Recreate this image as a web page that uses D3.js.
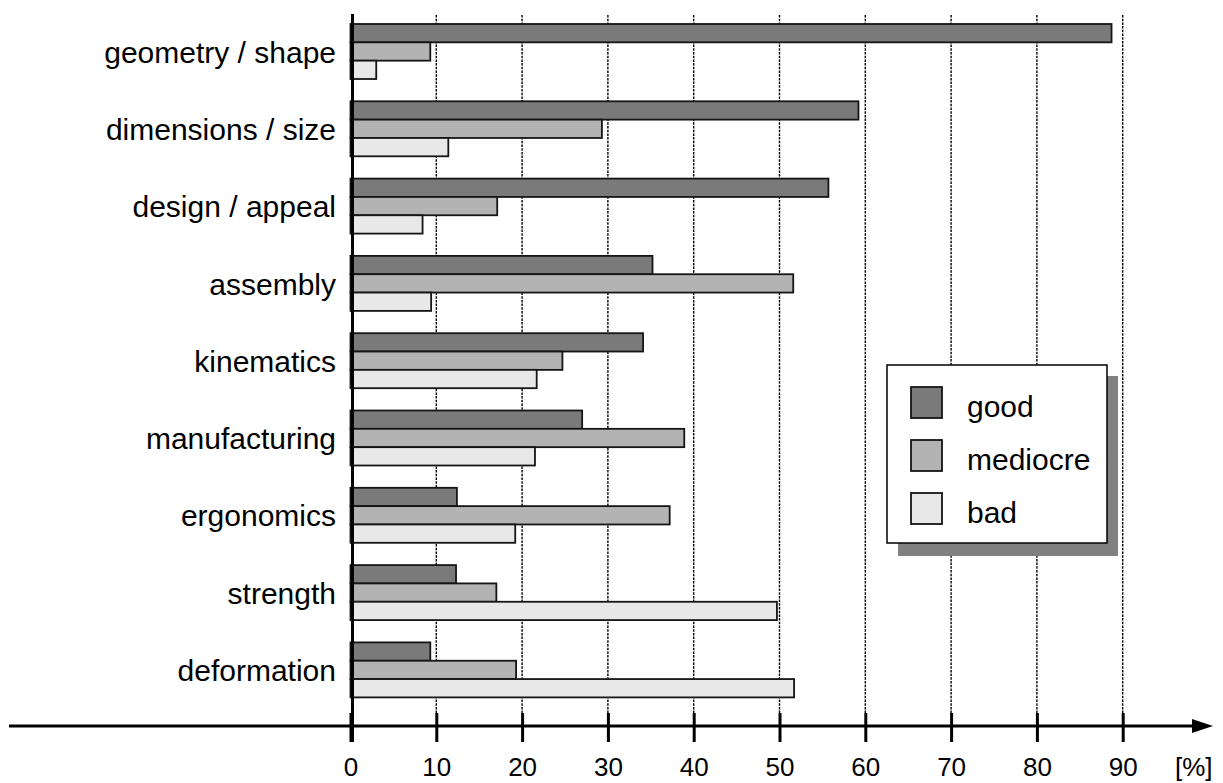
<!DOCTYPE html>
<html>
<head>
<meta charset="utf-8">
<script src="https://cdn.jsdelivr.net/npm/d3@7"></script>
<style>
  html, body { margin: 0; padding: 0; background: #fff; }
  svg { display: block; font-family: "Liberation Sans", Arial, Helvetica, sans-serif; }
</style>
</head>
<body>
<svg id="chart" width="1223" height="783"></svg>
<script>
const categories = ["geometry / shape", "dimensions / size", "design / appeal", "assembly",
  "kinematics", "manufacturing", "ergonomics", "strength", "deformation"];
const seriesNames = ["good", "mediocre", "bad"];
const goodValues     = [88.7, 59.2, 55.7, 35.2, 34.1, 27.0, 12.4, 12.3, 9.3];
const mediocreValues = [9.3, 29.3, 17.1, 51.6, 24.7, 38.9, 37.2, 17.0, 19.3];
const badValues      = [3.0, 11.4, 8.4, 9.4, 21.7, 21.5, 19.2, 49.7, 51.7];
const tickValues = [0, 10, 20, 30, 40, 50, 60, 70, 80, 90];
const unitLabel = "[%]";

const colors = { good: "#7a7a7a", mediocre: "#b3b3b3", bad: "#e8e8e8" };
const seriesValues = { good: goodValues, mediocre: mediocreValues, bad: badValues };

const svg = d3.select("#chart");

const x = d3.scaleLinear().domain([0, 90]).range([350.5, 1122.7]);
const y = d3.scaleBand().domain(categories).range([24, 697.4]).paddingInner(0.2885).paddingOuter(0);
const ySub = d3.scaleBand().domain(seriesNames).range([0, y.bandwidth()]).padding(0);

const axisY = 726;
const gridTop = 15, gridBottom = 713;

// gridlines (dashed)
svg.append("g")
  .selectAll("line")
  .data(tickValues.filter(d => d > 0))
  .join("line")
  .attr("x1", d => x(d)).attr("x2", d => x(d))
  .attr("y1", gridTop).attr("y2", gridBottom)
  .attr("stroke", "#000")
  .attr("stroke-width", 1.4)
  .attr("stroke-dasharray", "2.5,1.2");

// bars
const rows = categories.map((c, i) => ({ cat: c, vals: seriesNames.map(s => ({ s, v: seriesValues[s][i] })) }));
const grp = svg.append("g").selectAll("g").data(rows).join("g")
  .attr("transform", d => `translate(0,${y(d.cat)})`);
grp.selectAll("rect").data(d => d.vals).join("rect")
  .attr("x", x(0))
  .attr("y", d => ySub(d.s))
  .attr("width", d => x(d.v) - x(0))
  .attr("height", ySub.bandwidth())
  .attr("fill", d => colors[d.s])
  .attr("stroke", "#151515")
  .attr("stroke-width", 1.8);

// bottom ticks via d3 axis
const xAxis = d3.axisBottom(x).tickValues(tickValues).tickSize(29).tickPadding(16).tickFormat(d3.format("d"));
const gx = svg.append("g").attr("transform", `translate(0,${gridBottom})`).call(xAxis);
gx.select(".domain").remove();
gx.selectAll(".tick line").attr("stroke", "#000").attr("stroke-width", 3);
gx.selectAll(".tick text").attr("fill", "#000").attr("font-size", 26).attr("font-family", "Liberation Sans, Arial, sans-serif");

// horizontal axis arrow
svg.append("line").attr("x1", 9).attr("x2", 1198).attr("y1", axisY).attr("y2", axisY)
  .attr("stroke", "#000").attr("stroke-width", 3);
svg.append("path").attr("d", `M1213,${axisY} L1192,${axisY - 7} L1192,${axisY + 7} Z`).attr("fill", "#000");

// vertical axis
svg.append("line").attr("x1", 352.5).attr("x2", 352.5).attr("y1", 14).attr("y2", 742)
  .attr("stroke", "#000").attr("stroke-width", 3);

// category labels via d3 axis
const yAxis = d3.axisLeft(y).tickSize(0).tickPadding(16);
const gy = svg.append("g").attr("transform", "translate(352,0)").call(yAxis);
gy.select(".domain").remove();
gy.selectAll(".tick text").attr("fill", "#000").attr("font-size", 30).attr("dy", "0.37em")
  .attr("font-family", "Liberation Sans, Arial, sans-serif");

// unit label
svg.append("text").attr("x", 1175).attr("y", 776).attr("font-size", 26).attr("fill", "#000").text(unitLabel);

// legend
const lg = svg.append("g");
lg.append("rect").attr("x", 898).attr("y", 376).attr("width", 220).attr("height", 180).attr("fill", "#808080");
lg.append("rect").attr("x", 887).attr("y", 365).attr("width", 220).attr("height", 178)
  .attr("fill", "#fff").attr("stroke", "#000").attr("stroke-width", 1.5);
const ly = d3.scalePoint().domain(seriesNames).range([0, 106]);
const items = lg.selectAll("g.item").data(seriesNames).join("g").attr("class", "item")
  .attr("transform", d => `translate(911,${387 + ly(d)})`);
items.append("rect").attr("width", 31).attr("height", 31)
  .attr("fill", d => colors[d]).attr("stroke", "#151515").attr("stroke-width", 1.8);
items.append("text").attr("x", 56).attr("y", 30).attr("font-size", 30).attr("fill", "#000").text(d => d);
</script>
</body>
</html>
